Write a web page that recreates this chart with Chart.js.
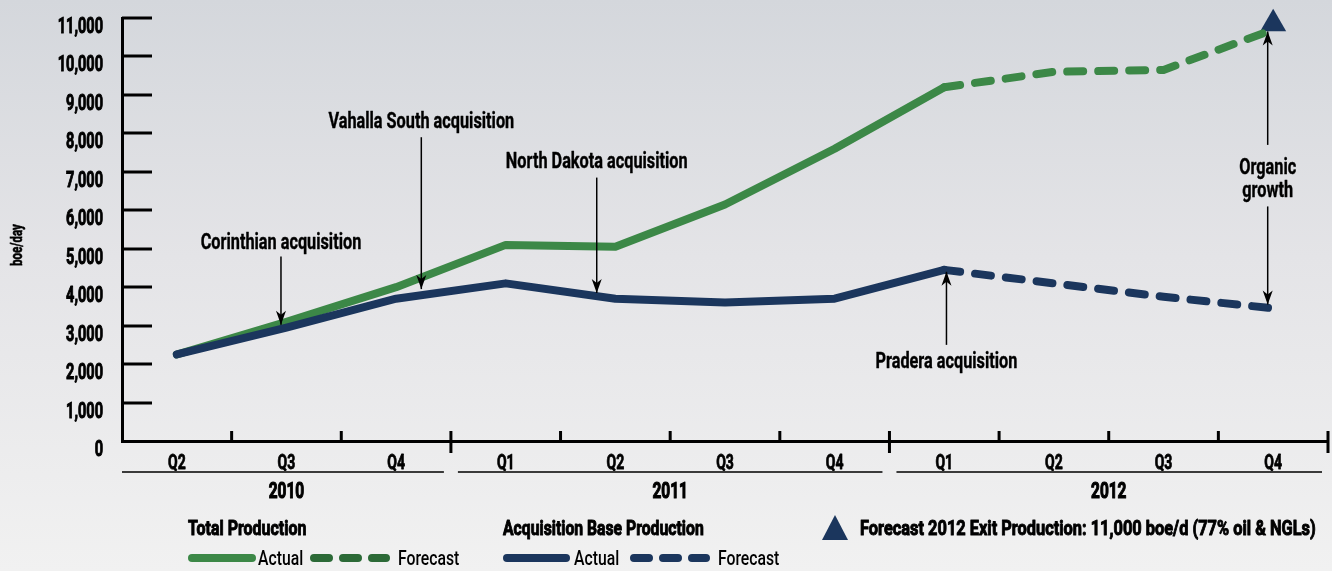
<!DOCTYPE html>
<html>
<head>
<meta charset="utf-8">
<script src="https://cdn.jsdelivr.net/npm/chart.js@4"></script>
<style>
  html, body { margin:0; padding:0; }
  body {
    width:1332px; height:571px; overflow:hidden;
    background: linear-gradient(180deg, #d4d7dc 0%, #e4e4e7 45%, #f1f1f1 100%);
  }
  #wrap { position:relative; width:1332px; height:571px; }
</style>
</head>
<body>
<div id="wrap"><canvas id="chart" width="1332" height="571"></canvas></div>
<script>
// Quarters and years
const quarters = ["Q2","Q3","Q4","Q1","Q2","Q3","Q4","Q1","Q2","Q3","Q4"];
const years    = [{ label:"2010", from:0, to:2 }, { label:"2011", from:3, to:6 }, { label:"2012", from:7, to:10 }];

// boe/day
const totalActual   = [2250, 3100, 4000, 5100, 5050, 6150, 7600, 9200, null, null, null];
const totalForecast = [null, null, null, null, null, null, null, 9200, 9600, 9650, 10700];
const baseActual    = [2250, 2950, 3700, 4100, 3700, 3600, 3700, 4450, null, null, null];
const baseForecast  = [null, null, null, null, null, null, null, 4450, 4100, 3750, 3450];
const exitForecast  = [null, null, null, null, null, null, null, null, null, null, 10850];

const yTicks = [0,1000,2000,3000,4000,5000,6000,7000,8000,9000,10000,11000];

// x index, text lines, baseline value, arrows [from, to]
const notes = [
  { x:0.95, text:["Corinthian acquisition"],   ty:5000, arrows:[[4800, 3020]] },
  { x:2.23, text:["Vahalla South acquisition"], ty:8140, arrows:[[7900, 3950]] },
  { x:3.83, text:["North Dakota acquisition"], ty:7100, arrows:[[6850, 3850]] },
  { x:7.02, text:["Pradera acquisition"],      ty:1900, arrows:[[2500, 4400]] },
  { x:9.95, text:["Organic","growth"],         ty:6940, arrows:[[7700, 10650],[6100, 3550]] }
];

const GREEN = "#3c8847", GREEN_DK = "#2c6a37", BLUE = "#1b365d";
const FONT = "Roboto, 'DejaVu Sans', sans-serif";

// squeeze text horizontally so it reads like a condensed face
function txt(ctx, s, x, y, size, weight, align, sx, heavy) {
  ctx.save();
  ctx.font = `${weight} ${size}px ${FONT}`;
  ctx.textAlign = align || "center";
  ctx.textBaseline = "alphabetic";
  ctx.translate(x, y);
  ctx.scale(sx || 0.72, 1);
  ctx.fillText(s, 0, 0);
  if (heavy) {
    ctx.lineWidth = heavy; ctx.strokeStyle = ctx.fillStyle; ctx.lineJoin = "round";
    ctx.strokeText(s, 0, 0);
  }
  ctx.restore();
}

function arrow(ctx, x, y1, y2) {
  ctx.beginPath();
  ctx.moveTo(x, y1); ctx.lineTo(x, y2);
  ctx.stroke();
  const d = y2 > y1 ? 1 : -1;
  ctx.beginPath();
  ctx.moveTo(x, y2);
  ctx.lineTo(x - 5, y2 - d*14);
  ctx.lineTo(x, y2 - d*10);
  ctx.lineTo(x + 5, y2 - d*14);
  ctx.closePath();
  ctx.fill();
}

const decor = {
  id: "decor",
  afterDatasetsDraw(chart) {
    const { ctx, chartArea: a, scales: { x, y } } = chart;
    ctx.save();
    ctx.strokeStyle = "#000"; ctx.fillStyle = "#000";

    // y ticks: marks inside, labels outside
    ctx.lineWidth = 3;
    yTicks.forEach(v => {
      const py = Math.round(y.getPixelForValue(v));
      if (v > 0) { ctx.beginPath(); ctx.moveTo(a.left, py); ctx.lineTo(a.left + 30, py); ctx.stroke(); }
      txt(ctx, v.toLocaleString("en-US"), 103, py + 15, 22, "bold", "right", 0.66, 1);
    });

    // x ticks between quarters, longer between years
    ctx.lineWidth = 3;
    for (let i = 0; i < quarters.length; i++) {
      const px = x.getPixelForValue(i + 0.5);
      const yearEdge = years.some(g => g.to === i);
      ctx.beginPath();
      ctx.moveTo(px, a.bottom - 10);
      ctx.lineTo(px, yearEdge ? a.bottom + 12 : a.bottom);
      ctx.stroke();
    }
    quarters.forEach((q, i) => txt(ctx, q, x.getPixelForValue(i), 469, 20, "bold", "center", 0.7, 0.8));

    // year lines and labels
    ctx.strokeStyle = "#3a3a3a"; ctx.lineWidth = 2;
    years.forEach((g, k) => {
      const l = k === 0 ? a.left : x.getPixelForValue(g.from - 0.5) + 7;
      const r = x.getPixelForValue(g.to + 0.5) - (k === years.length - 1 ? 6 : 7);
      ctx.beginPath(); ctx.moveTo(l, 472); ctx.lineTo(r, 472); ctx.stroke();
      const cx = (x.getPixelForValue(g.from) + x.getPixelForValue(g.to)) / 2;
      txt(ctx, g.label, cx, 498, 22, "bold", "center", 0.7, 1.2);
    });

    // annotations
    ctx.strokeStyle = "#000"; ctx.lineWidth = 1.5;
    notes.forEach(n => {
      const px = x.getPixelForValue(n.x);
      n.text.forEach((t, i) => txt(ctx, t, px, y.getPixelForValue(n.ty) + i*23, 22, "bold", "center", 0.74, 0.4));
      n.arrows.forEach(([f, t]) => arrow(ctx, px, y.getPixelForValue(f), y.getPixelForValue(t)));
    });

    // legend
    txt(ctx, "Total Production", 188, 535, 21, "bold", "left", 0.76, 1);
    txt(ctx, "Acquisition Base Production", 503, 535, 21, "bold", "left", 0.75, 1);
    txt(ctx, "Forecast 2012 Exit Production: 11,000 boe/d (77% oil & NGLs)", 860, 535, 21, "bold", "left", 0.78, 1);
    txt(ctx, "Actual", 258, 565, 21, "500", "left", 0.75);
    txt(ctx, "Forecast", 398, 565, 21, "500", "left", 0.75);
    txt(ctx, "Actual", 574, 565, 21, "500", "left", 0.75);
    txt(ctx, "Forecast", 718, 565, 21, "500", "left", 0.75);
    ctx.lineCap = "round"; ctx.lineWidth = 8;
    const sample = (x1, x2, col, dash) => {
      ctx.strokeStyle = col; ctx.setLineDash(dash);
      ctx.beginPath(); ctx.moveTo(x1, 558); ctx.lineTo(x2, 558); ctx.stroke();
    };
    sample(192, 252, GREEN, []);
    sample(314, 386, GREEN_DK, [15, 14]);
    sample(507, 566, BLUE, []);
    sample(634, 706, BLUE, [15, 14]);
    ctx.setLineDash([]);
    ctx.fillStyle = BLUE;
    ctx.beginPath(); ctx.moveTo(835, 515); ctx.lineTo(848, 540); ctx.lineTo(822, 540); ctx.closePath(); ctx.fill();

    // y title
    ctx.fillStyle = "#000";
    ctx.translate(22, 245); ctx.rotate(-Math.PI/2);
    txt(ctx, "boe/day", 0, 0, 16, "bold", "center", 0.72, 0.6);
    ctx.restore();
  }
};

const lineDs = (data, color, dash) => ({
  data, borderColor: color, backgroundColor: color, borderWidth: 8,
  borderDash: dash, borderCapStyle: "round", borderJoinStyle: "round",
  pointRadius: 0, fill: false, tension: 0, spanGaps: false
});

new Chart(document.getElementById("chart"), {
  type: "line",
  data: {
    labels: quarters,
    datasets: [
      lineDs(baseActual, BLUE, []),
      lineDs(baseForecast, BLUE, [16, 15]),
      lineDs(totalActual, GREEN, []),
      lineDs(totalForecast, GREEN, [16, 15]),
      { data: exitForecast, showLine: false, clip: false, pointStyle: "triangle", pointRadius: 15,
        pointBackgroundColor: BLUE, pointBorderColor: BLUE, pointBorderWidth: 0 }
    ]
  },
  options: {
    responsive: false, animation: false,
    layout: { autoPadding: false, padding: { top: 18, right: 4, left: 0, bottom: 0 } },
    plugins: { legend: { display: false }, tooltip: { enabled: false } },
    scales: {
      x: {
        offset: true,
        grid: { display: false },
        border: { display: true, color: "#000", width: 3 },
        ticks: { display: false },
        afterFit: s => { s.height = 130; }
      },
      y: {
        min: 0, max: 11000,
        grid: { display: false },
        border: { display: true, color: "#000", width: 3 },
        ticks: { display: false, stepSize: 1000 },
        afterFit: s => { s.width = 122; }
      }
    }
  },
  plugins: [decor]
});
</script>
</body>
</html>
